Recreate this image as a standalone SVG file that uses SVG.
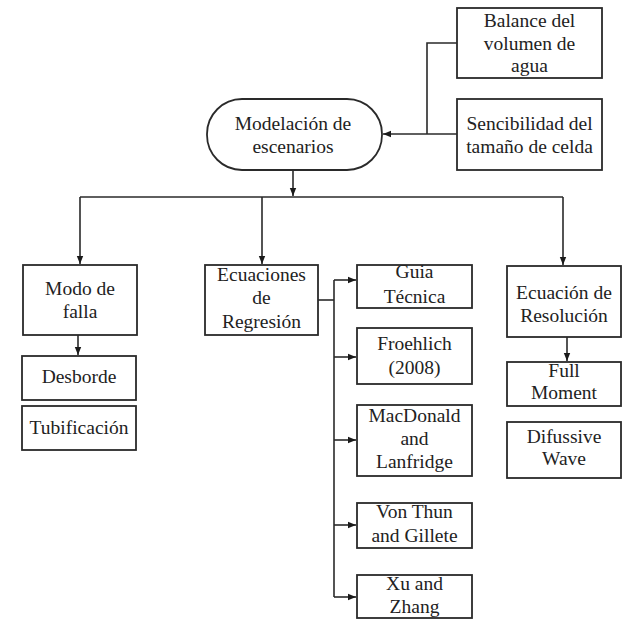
<svg xmlns="http://www.w3.org/2000/svg" width="623" height="619" viewBox="0 0 623 619">
<style>
.box{fill:#fff;stroke:#2a2a2a;stroke-width:1.8}
.t{font-family:"Liberation Serif","Times New Roman",serif;font-size:19.5px;fill:#222;text-anchor:middle}
.c{fill:none;stroke:#2a2a2a;stroke-width:1.6}
</style>
<defs>
<marker id="ah" markerUnits="userSpaceOnUse" markerWidth="8" markerHeight="8" viewBox="0 0 8 8" refX="8" refY="4" orient="auto">
<path d="M0,0.8 L8,4 L0,7.2 Z" fill="#1a1a1a"/>
</marker>
</defs>
<rect width="623" height="619" fill="#fff"/>
<g id="connectors">
<path class="c" d="M457,43 H427 V134"/>
<path class="c" d="M457,134 H383" marker-end="url(#ah)"/>
<path class="c" d="M293,170 V196" marker-end="url(#ah)"/>
<path class="c" d="M80,197 H563"/>
<path class="c" d="M80,197 V264" marker-end="url(#ah)"/>
<path class="c" d="M262,197 V264" marker-end="url(#ah)"/>
<path class="c" d="M563,197 V265" marker-end="url(#ah)"/>
<path class="c" d="M78,335 V355" marker-end="url(#ah)"/>
<path class="c" d="M318,300 H334"/>
<path class="c" d="M334,280 V597"/>
<path class="c" d="M334,280 H356" marker-end="url(#ah)"/>
<path class="c" d="M334,357 H356" marker-end="url(#ah)"/>
<path class="c" d="M334,440 H356" marker-end="url(#ah)"/>
<path class="c" d="M334,525 H356" marker-end="url(#ah)"/>
<path class="c" d="M334,597 H356" marker-end="url(#ah)"/>
<path class="c" d="M567,337 V361" marker-end="url(#ah)"/>
</g>
<g id="balance"><rect class="box" x="457" y="8" width="145" height="70"/>
<text class="t" x="529.5" y="27">Balance del</text><text class="t" x="529.5" y="50">volumen de</text><text class="t" x="529.5" y="72">agua</text></g>
<g id="sencibilidad"><rect class="box" x="457" y="99" width="145" height="71"/>
<text class="t" x="529.5" y="130">Sencibilidad del</text><text class="t" x="529.5" y="153">tamaño de celda</text></g>
<g id="modelacion"><rect class="box" x="207" y="99" width="175" height="71" rx="35" ry="35"/>
<text class="t" x="293" y="130">Modelación de</text><text class="t" x="293" y="153">escenarios</text></g>
<g id="modo"><rect class="box" x="23" y="265" width="114" height="70"/>
<text class="t" x="80" y="295">Modo de</text><text class="t" x="80" y="318">falla</text></g>
<g id="desborde"><rect class="box" x="22" y="356" width="114" height="44"/>
<text class="t" x="79" y="383">Desborde</text></g>
<g id="tubificacion"><rect class="box" x="22" y="406" width="114" height="44"/>
<text class="t" x="79" y="434">Tubificación</text></g>
<g id="ecuaciones"><rect class="box" x="205" y="265" width="113" height="70"/>
<text class="t" x="261.5" y="281">Ecuaciones</text><text class="t" x="261.5" y="304">de</text><text class="t" x="261.5" y="328">Regresión</text></g>
<g id="guia"><rect class="box" x="357" y="265" width="115" height="43"/>
<text class="t" x="414.5" y="278">Guia</text><text class="t" x="414.5" y="303">Técnica</text></g>
<g id="froehlich"><rect class="box" x="357" y="328" width="115" height="56"/>
<text class="t" x="414.5" y="350">Froehlich</text><text class="t" x="414.5" y="374">(2008)</text></g>
<g id="macdonald"><rect class="box" x="357" y="405" width="115" height="71"/>
<text class="t" x="414.5" y="422">MacDonald</text><text class="t" x="414.5" y="445">and</text><text class="t" x="414.5" y="468">Lanfridge</text></g>
<g id="vonthun"><rect class="box" x="357" y="503" width="115" height="45"/>
<text class="t" x="414.5" y="518">Von Thun</text><text class="t" x="414.5" y="542">and Gillete</text></g>
<g id="xu"><rect class="box" x="357" y="575" width="115" height="43"/>
<text class="t" x="414.5" y="590">Xu and</text><text class="t" x="414.5" y="613">Zhang</text></g>
<g id="resolucion"><rect class="box" x="507" y="266" width="114" height="71"/>
<text class="t" x="564" y="299">Ecuación de</text><text class="t" x="564" y="322">Resolución</text></g>
<g id="fullmoment"><rect class="box" x="507" y="362" width="114" height="44"/>
<text class="t" x="564" y="377">Full</text><text class="t" x="564" y="399">Moment</text></g>
<g id="difussive"><rect class="box" x="507" y="422" width="114" height="56"/>
<text class="t" x="564" y="443">Difussive</text><text class="t" x="564" y="465">Wave</text></g>
</svg>
